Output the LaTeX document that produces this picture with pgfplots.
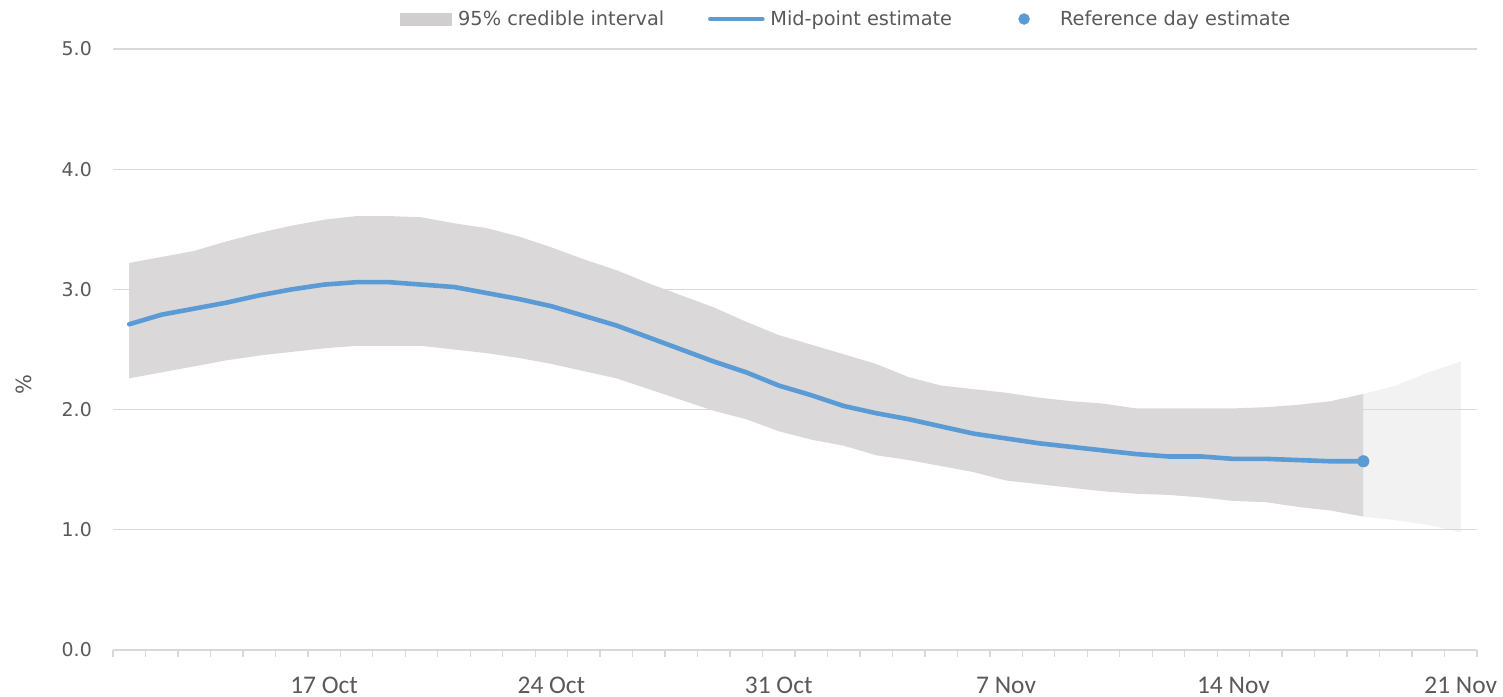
\documentclass[border=0pt]{standalone}
\usepackage{fontspec}
\setmainfont{DejaVu Sans}
\newfontfamily\carlito{Carlito}
\usepackage{pgfplots}
\usepackage{pgfplotstable}
\pgfplotsset{compat=1.18}
\usepgfplotslibrary{fillbetween}

\definecolor{cBand}{HTML}{DAD8D9}
\definecolor{cSwatch}{HTML}{D0CECE}
\definecolor{cLight}{HTML}{F2F2F2}
\definecolor{cLine}{HTML}{5B9BD5}
\definecolor{cGrid}{HTML}{D9D9D9}
\definecolor{cTxt}{HTML}{595959}

% day = day of October (32 = 1 Nov)
\pgfplotstableread{
day lo mid hi
11 2.26 2.71 3.22
12 2.31 2.79 3.27
13 2.36 2.84 3.32
14 2.41 2.89 3.40
15 2.45 2.95 3.47
16 2.48 3.00 3.53
17 2.51 3.04 3.58
18 2.53 3.06 3.61
19 2.53 3.06 3.61
20 2.53 3.04 3.60
21 2.50 3.02 3.55
22 2.47 2.97 3.51
23 2.43 2.92 3.44
24 2.38 2.86 3.35
25 2.32 2.78 3.25
26 2.26 2.70 3.16
27 2.17 2.60 3.05
28 2.08 2.50 2.95
29 1.99 2.40 2.85
30 1.92 2.31 2.73
31 1.82 2.20 2.62
32 1.75 2.12 2.54
33 1.70 2.03 2.46
34 1.62 1.97 2.38
35 1.58 1.92 2.27
36 1.53 1.86 2.20
37 1.48 1.80 2.17
38 1.41 1.76 2.14
39 1.38 1.72 2.10
40 1.35 1.69 2.07
41 1.32 1.66 2.05
42 1.30 1.63 2.01
43 1.29 1.61 2.01
44 1.27 1.61 2.01
45 1.24 1.59 2.01
46 1.23 1.59 2.02
47 1.19 1.58 2.04
48 1.16 1.57 2.07
49 1.11 1.57 2.13
}\est

\pgfplotstableread{
day lo hi
49 1.11 2.13
50 1.08 2.20
51 1.04 2.31
52 0.98 2.40
}\proj

\begin{document}
\begin{tikzpicture}
\begin{axis}[
  at={(0,0)}, anchor=south west,
  width=1364bp, height=601bp, scale only axis,
  set layers,
  xmin=10.5, xmax=52.5, ymin=0, ymax=5,
  axis x line*=bottom, axis y line*=left,
  x axis line style={draw=cGrid, line width=1.3bp, -},
  y axis line style={draw=none},
  xtick={17,24,31,38,45,52},
  xticklabels={17 Oct,24 Oct,31 Oct,7 Nov,14 Nov,21 Nov},
  minor xtick={10.5,11.5,...,52.5},
  ytick={0,1,2,3,4,5},
  tick align=outside,
  major tick length=0pt, minor tick length=7bp,
  major x tick style={draw=none},
  minor x tick style={draw=cGrid, line width=1.3bp},
  ytick style={draw=none},
  ymajorgrids,
  major grid style={draw=cGrid, line width=1.3bp},
  xticklabel style={font=\carlito\fontsize{25.5}{28}\selectfont, text=cTxt,
    anchor=north, inner sep=0pt, yshift=-27bp},
  yticklabel style={font=\fontsize{19}{22}\selectfont, text=cTxt,
    anchor=east, inner sep=0pt, xshift=-21bp,
    /pgf/number format/fixed, /pgf/number format/fixed zerofill,
    /pgf/number format/precision=1, /pgf/number format/assume math mode=true},
  ylabel={\fontsize{21}{24}\selectfont\%},
  ylabel style={at={(axis description cs:-0.0652,0.441)}, anchor=center,
    text=cTxt},
  legend columns=3,
  legend cell align=left,
  legend style={at={(axis description cs:0.2104,1.0499)}, anchor=west,
    draw=none, fill=none, inner sep=0pt,
    font=\fontsize{19.4}{22}\selectfont, text=cTxt,
    nodes={inner sep=0pt},
    /tikz/every even column/.append style={column sep=0pt}},
]
% projection band after the reference day
\addplot[draw=none, forget plot, name path=pH] table[x=day, y=hi]{\proj};
\addplot[draw=none, forget plot, name path=pL] table[x=day, y=lo]{\proj};
\addplot[fill=cLight, draw=none, forget plot]
  fill between[of=pH and pL, on layer=axis background];

% credible interval
\addplot[draw=none, forget plot, name path=eH] table[x=day, y=hi]{\est};
\addplot[draw=none, forget plot, name path=eL] table[x=day, y=lo]{\est};
\addplot[fill=cBand, draw=none,
  legend image code/.code={
    \path[draw=none, fill=none] (0,0) -- (58bp,0);
    \fill[cSwatch] (0,-6.5bp) rectangle (52bp,6.5bp);}]
  fill between[of=eH and eL];
\addlegendentry{95\% credible interval}

% mid-point
\addplot[cLine, line width=4.6bp, line join=round, line cap=round,
  legend image code/.code={
    \path[draw=none, fill=none] (0,0) -- (106bp,0);
    \draw[cLine, line width=4.6bp, line cap=round] (46bp,0) -- (98bp,0);}]
  table[x=day, y=mid]{\est};
\addlegendentry{Mid-point estimate}

% reference day
\addplot[only marks, mark=*, mark size=5.8bp,
  mark options={fill=cLine, draw=cLine},
  legend image code/.code={
    \path[draw=none, fill=none] (0,0) -- (108bp,0);
    \fill[cLine] (72bp,0) circle (5.5bp);}]
  coordinates {(49,1.57)};
\addlegendentry{Reference day estimate}
\end{axis}
\pgfresetboundingbox
\useasboundingbox (-113bp,-47bp) rectangle (1390bp,650bp);
\end{tikzpicture}
\end{document}
